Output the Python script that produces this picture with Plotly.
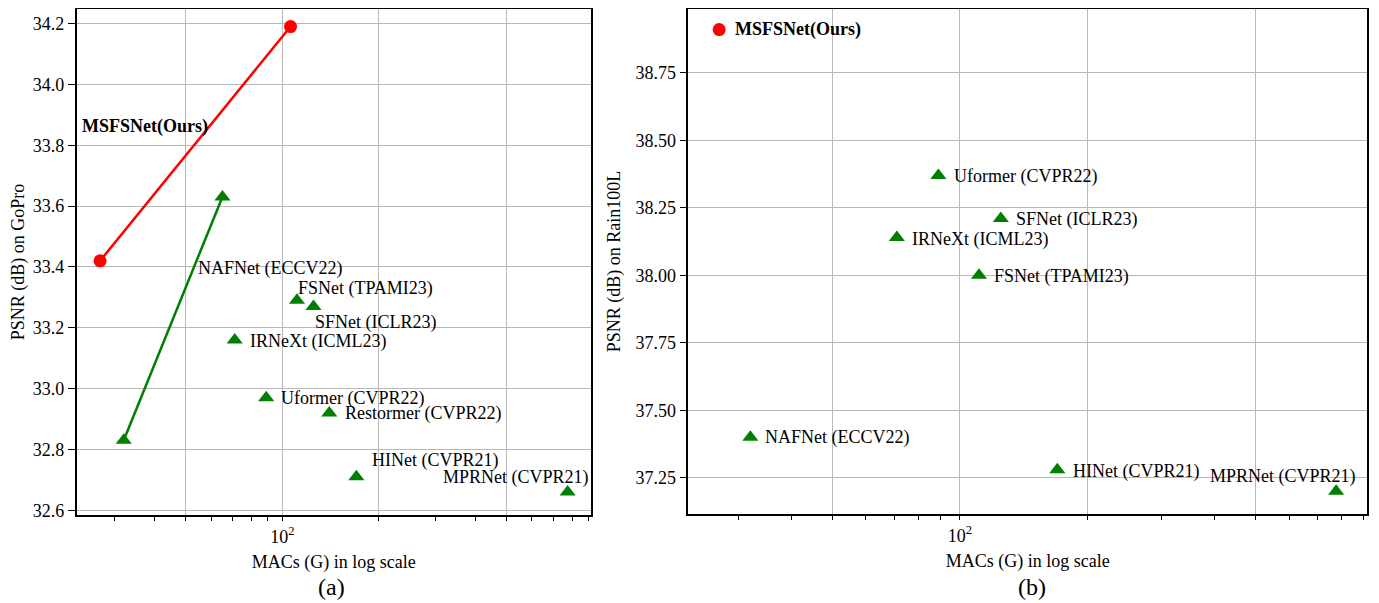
import numpy as np
import plotly.graph_objects as go

# ---------------- data ----------------
# (a) GoPro
gopro_ours_macs = [27, 106]
gopro_ours_psnr = [33.42, 34.19]
gopro_naf_macs = [32, 65]
gopro_naf_psnr = [32.83, 33.63]
gopro_methods = ["FSNet (TPAMI23)", "SFNet (ICLR23)", "IRNeXt (ICML23)", "Uformer (CVPR22)",
                 "Restormer (CVPR22)", "HINet (CVPR21)", "MPRNet (CVPR21)"]
gopro_macs = [111, 125, 71, 89, 140, 170, 775]
gopro_psnr = [33.29, 33.27, 33.16, 32.97, 32.92, 32.71, 32.66]

# (b) Rain100L
rain_ours_macs = [27]
rain_ours_psnr = [38.91]
rain_methods = ["Uformer (CVPR22)", "SFNet (ICLR23)", "IRNeXt (ICML23)", "FSNet (TPAMI23)",
                "NAFNet (ECCV22)", "HINet (CVPR21)", "MPRNet (CVPR21)"]
rain_macs = [89, 125, 71, 111, 32, 170, 775]
rain_psnr = [38.37, 38.21, 38.14, 38.00, 37.40, 37.28, 37.20]

gopro_yticks = [32.6, 32.8, 33.0, 33.2, 33.4, 33.6, 33.8, 34.0, 34.2]
rain_yticks = [37.25, 37.50, 37.75, 38.00, 38.25, 38.50, 38.75]
x_major = [50, 100, 200, 500]
x_major_text = ["", "10<sup>2</sup>", "", ""]
x_minor = [30, 40, 60, 70, 80, 90, 300, 400, 600, 700, 800, 900]

# ---------------- styles / layout ----------------
FONT = "Liberation Serif"
RED = "#ff0000"
GREEN = "#008000"
GRID = "#b8b8b8"
TRI = 14

# the page has an 8px body margin; size the figure to the visible area
OFF = 8
W, H = 1379 - OFF, 603 - OFF


def fx(px):
    return (px - OFF) / W


def fy(py):
    return (603 - py) / H


# label pixel offsets (dx, dy) relative to their point
gopro_offsets = [(-1, 12), (-1, -16), (13, -1.5), (13, -1), (13.5, -1), (13.5, 16), (-127, 15)]
rain_offsets = [(13.5, -1.5), (13.5, -1), (13.5, -2), (13.5, -1), (13, 0), (13.5, -2), (-128, 15)]

fig = go.Figure()

# panel (a)
fig.add_trace(go.Scatter(x=gopro_ours_macs, y=gopro_ours_psnr, mode="lines+markers",
                         line=dict(color=RED, width=2.5),
                         marker=dict(symbol="circle", size=13, color=RED),
                         xaxis="x", yaxis="y", showlegend=False))
fig.add_trace(go.Scatter(x=gopro_naf_macs, y=gopro_naf_psnr, mode="lines+markers",
                         line=dict(color=GREEN, width=2.5),
                         marker=dict(symbol="triangle-up", size=TRI, color=GREEN),
                         xaxis="x", yaxis="y", showlegend=False))
fig.add_trace(go.Scatter(x=gopro_macs, y=gopro_psnr, mode="markers",
                         marker=dict(symbol="triangle-up", size=TRI, color=GREEN),
                         xaxis="x", yaxis="y", showlegend=False))

# panel (b)
fig.add_trace(go.Scatter(x=rain_ours_macs, y=rain_ours_psnr, mode="markers",
                         marker=dict(symbol="circle", size=13, color=RED),
                         xaxis="x2", yaxis="y2", showlegend=False))
fig.add_trace(go.Scatter(x=rain_macs, y=rain_psnr, mode="markers",
                         marker=dict(symbol="triangle-up", size=TRI, color=GREEN),
                         xaxis="x2", yaxis="y2", showlegend=False))

annotations = []
txt_font = dict(family=FONT, size=18, color="black")
bold_font = dict(family=FONT, size=18, color="black")


def label(xref, yref, x, y, text, dx, dy, font=txt_font):
    annotations.append(dict(x=np.log10(x), y=y, xref=xref, yref=yref, text=text,
                            showarrow=False, xanchor="left", yanchor="middle",
                            xshift=dx, yshift=dy, font=font))


for m, xv, yv, (dx, dy) in zip(gopro_methods, gopro_macs, gopro_psnr, gopro_offsets):
    label("x", "y", xv, yv, m, dx, dy)
label("x", "y", gopro_naf_macs[1], gopro_naf_psnr[1], "NAFNet (ECCV22)", -26, -72)
label("x", "y", gopro_ours_macs[0], gopro_ours_psnr[0], "<b>MSFSNet(Ours)</b>", -20, 134, bold_font)

for m, xv, yv, (dx, dy) in zip(rain_methods, rain_macs, rain_psnr, rain_offsets):
    label("x2", "y2", xv, yv, m, dx, dy)
label("x2", "y2", rain_ours_macs[0], rain_ours_psnr[0], "<b>MSFSNet(Ours)</b>", 14, 0, bold_font)

for txt, cx in (("(a)", 331), ("(b)", 1032)):
    annotations.append(dict(x=fx(cx), y=fy(587), xref="paper", yref="paper", text=txt,
                            showarrow=False, xanchor="center", yanchor="middle",
                            font=dict(family=FONT, size=24, color="black")))

# axis ranges with 5% margins (like matplotlib)
all_macs = gopro_ours_macs + gopro_naf_macs + gopro_macs + rain_ours_macs + rain_macs
lx = np.log10([min(all_macs), max(all_macs)])
xr = [lx[0] - 0.05 * (lx[1] - lx[0]), lx[1] + 0.05 * (lx[1] - lx[0])]


def yaxis_geom(vals, top_px, bot_px):
    """matplotlib-like 5% margins; clip the top to the visible page area keeping the scale."""
    lo, hi = min(vals), max(vals)
    r = [lo - 0.05 * (hi - lo), hi + 0.05 * (hi - lo)]
    ppu = (bot_px - top_px) / (r[1] - r[0])
    new_top = max(top_px, OFF + 0.5)
    r[1] -= (new_top - top_px) / ppu
    return r, [fy(bot_px), fy(new_top)]


ya, dom_a = yaxis_geom(gopro_ours_psnr + gopro_naf_psnr + gopro_psnr, 3.3, 515.3)
yb, dom_b = yaxis_geom(rain_ours_psnr + rain_psnr, 6.5, 514.4)

tickfont = dict(family=FONT, size=18, color="black")
common_x = dict(type="log", range=xr, tickmode="array", tickvals=x_major, ticktext=x_major_text,
                ticks="outside", ticklen=4, tickwidth=1.2, tickcolor="black",
                showgrid=True, gridcolor=GRID, gridwidth=1,
                showline=True, linecolor="black", linewidth=1.6, mirror=True,
                zeroline=False, tickfont=tickfont, automargin=False,
                minor=dict(tickmode="array", tickvals=x_minor, ticks="outside", ticklen=4,
                           tickwidth=1.2, tickcolor="black", showgrid=False),
                title=dict(text="MACs (G) in log scale", font=dict(family=FONT, size=18, color="black"),
                           standoff=10))
common_y = dict(ticks="outside", ticklen=7, tickwidth=1.2, tickcolor="black",
                showgrid=True, gridcolor=GRID, gridwidth=1,
                showline=True, linecolor="black", linewidth=1.6, mirror=True,
                zeroline=False, tickfont=tickfont, tickmode="array", automargin=False)

fig.update_layout(
    width=W, height=H,
    margin=dict(l=0, r=0, t=0, b=0, autoexpand=False),
    paper_bgcolor="white", plot_bgcolor="white",
    font=dict(family=FONT, size=18, color="black"),
    xaxis=dict(domain=[fx(76.7), fx(591)], anchor="y", **common_x),
    xaxis2=dict(domain=[fx(688.3), fx(1367)], anchor="y2", **common_x),
    yaxis=dict(domain=dom_a, anchor="x", range=ya,
               tickvals=gopro_yticks, ticktext=[f"{v:.1f}" for v in gopro_yticks],
               title=dict(text="PSNR (dB) on GoPro", font=dict(family=FONT, size=18, color="black"),
                          standoff=6),
               **common_y),
    yaxis2=dict(domain=dom_b, anchor="x2", range=yb,
                tickvals=rain_yticks, ticktext=[f"{v:.2f}" for v in rain_yticks],
                title=dict(text="PSNR (dB) on Rain100L", font=dict(family=FONT, size=18, color="black"),
                           standoff=10),
                **common_y),
    annotations=annotations,
)

fig.write_html("out.html")
